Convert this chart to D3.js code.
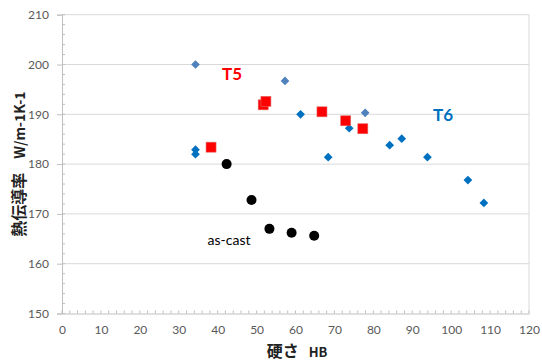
<!DOCTYPE html>
<html>
<head>
<meta charset="utf-8">
<script src="https://cdn.jsdelivr.net/npm/d3@7"></script>
<style>
  body { margin: 0; background: #fff; }
  svg { display: block; }
  .tick text { font-family: Lato, "Noto Sans", sans-serif; font-size: 12px; fill: #595959; }
</style>
</head>
<body>
<div class="graphic"></div>
<script>
// hardness HB / thermal conductivity
const t6Hb = [34.3, 34.3, 34.3, 57.3, 61.3, 68.4, 73.8, 77.9, 84.2, 87.3, 93.9, 104.3, 108.4];
const t6Tc = [200.0, 182.9, 182.0, 196.7, 190.0, 181.4, 187.2, 190.3, 183.8, 185.1, 181.4, 176.8, 172.2];
const t6Light = [true, false, false, true, false, false, false, true, false, false, false, false, false];

const t5Hb = [38.3, 51.7, 52.4, 66.8, 72.9, 77.3];
const t5Tc = [183.4, 191.9, 192.6, 190.5, 188.7, 187.1];

const castHb = [42.3, 48.7, 53.3, 59.0, 64.8];
const castTc = [180.0, 172.8, 167.0, 166.2, 165.6];

const xTicks = d3.range(0, 121, 10);
const yTicks = d3.range(150, 211, 10);

const width = 542, height = 361;
const x = d3.scaleLinear().domain([0, 120]).range([62, 529]);
const y = d3.scaleLinear().domain([150, 210]).range([313.5, 14.7]);

const svg = d3.select('.graphic')
  .append('svg')
  .attr('width', width)
  .attr('height', height);

// grid
svg.selectAll('line.grid')
  .data(yTicks.slice(1))
  .enter()
  .append('line')
  .attr('class', 'grid')
  .attr('x1', x(0))
  .attr('x2', x(120))
  .attr('y1', d => y(d))
  .attr('y2', d => y(d))
  .attr('stroke', '#d9d9d9')
  .attr('stroke-width', 1);

svg.append('line')
  .attr('x1', x(120)).attr('x2', x(120))
  .attr('y1', y(210)).attr('y2', y(150))
  .attr('stroke', '#d9d9d9');

// minor ticks
svg.selectAll('line.xminor')
  .data(d3.range(0, 121, 2))
  .enter()
  .append('line')
  .attr('x1', d => x(d)).attr('x2', d => x(d))
  .attr('y1', y(150)).attr('y2', y(150) - 3)
  .attr('stroke', '#bfbfbf');

svg.selectAll('line.yminor')
  .data(d3.range(150, 211, 2))
  .enter()
  .append('line')
  .attr('x1', x(0)).attr('x2', x(0) + 3)
  .attr('y1', d => y(d)).attr('y2', d => y(d))
  .attr('stroke', '#bfbfbf');

const xAxis = svg.append('g')
  .attr('transform', `translate(0,${y(150)})`)
  .call(d3.axisBottom(x).tickValues(xTicks).tickSize(0).tickPadding(12));
xAxis.select('.domain').attr('stroke', '#bfbfbf');

const yAxis = svg.append('g')
  .attr('transform', `translate(${x(0)},0)`)
  .call(d3.axisLeft(y).tickValues(yTicks).tickSize(5).tickPadding(8));
yAxis.select('.domain').attr('stroke', '#bfbfbf');
yAxis.selectAll('.tick line').attr('stroke', '#bfbfbf');

// T6 diamonds
svg.selectAll('path.t6')
  .data(t6Hb)
  .enter()
  .append('path')
  .attr('class', 't6')
  .attr('d', d3.symbol().type(d3.symbolSquare).size(38))
  .attr('transform', (d, i) => `translate(${x(d)},${y(t6Tc[i])}) rotate(45)`)
  .attr('fill', (d, i) => t6Light[i] ? '#4f81bd' : '#0070c0');

// T5 squares
svg.selectAll('rect.t5')
  .data(t5Hb)
  .enter()
  .append('rect')
  .attr('class', 't5')
  .attr('x', d => x(d) - 5)
  .attr('y', (d, i) => y(t5Tc[i]) - 5)
  .attr('width', 10)
  .attr('height', 10)
  .attr('fill', '#ff0000')
  .attr('stroke', '#e06666')
  .attr('stroke-width', 0.6);

// as-cast circles
svg.selectAll('circle.cast')
  .data(castHb)
  .enter()
  .append('circle')
  .attr('class', 'cast')
  .attr('cx', d => x(d))
  .attr('cy', (d, i) => y(castTc[i]))
  .attr('r', 5)
  .attr('fill', '#000');

// labels
svg.append('text')
  .text('T5')
  .attr('x', 232).attr('y', 80)
  .attr('text-anchor', 'middle')
  .attr('font-family', 'Lato, sans-serif')
  .attr('font-weight', 'bold')
  .attr('font-size', 17)
  .attr('fill', '#ff0000');

svg.append('text')
  .text('T6')
  .attr('x', 443).attr('y', 121)
  .attr('text-anchor', 'middle')
  .attr('font-family', 'Lato, sans-serif')
  .attr('font-weight', 'bold')
  .attr('font-size', 17)
  .attr('fill', '#0070c0');

svg.append('text')
  .text('as-cast')
  .attr('x', 229).attr('y', 245)
  .attr('text-anchor', 'middle')
  .attr('font-family', 'Lato, sans-serif')
  .attr('font-size', 14)
  .attr('fill', '#000');

const xLabel = svg.append('text')
  .attr('x', 297).attr('y', 357)
  .attr('text-anchor', 'middle')
  .attr('font-family', '"Noto Sans CJK JP", sans-serif')
  .attr('font-weight', 'bold')
  .attr('fill', '#222');
xLabel.append('tspan').attr('font-size', 16).text('硬さ');
xLabel.append('tspan').attr('font-size', 13).attr('dx', 10).text('HB');

const yLabel = svg.append('text')
  .attr('transform', 'translate(25,164) rotate(-90)')
  .attr('text-anchor', 'middle')
  .attr('font-family', '"Noto Sans CJK JP", sans-serif')
  .attr('font-weight', 'bold')
  .attr('fill', '#222');
yLabel.append('tspan').attr('font-size', 16).text('熱伝導率');
yLabel.append('tspan').attr('font-size', 14).attr('dx', 14).text('W/m-1K-1');
</script>
</body>
</html>
